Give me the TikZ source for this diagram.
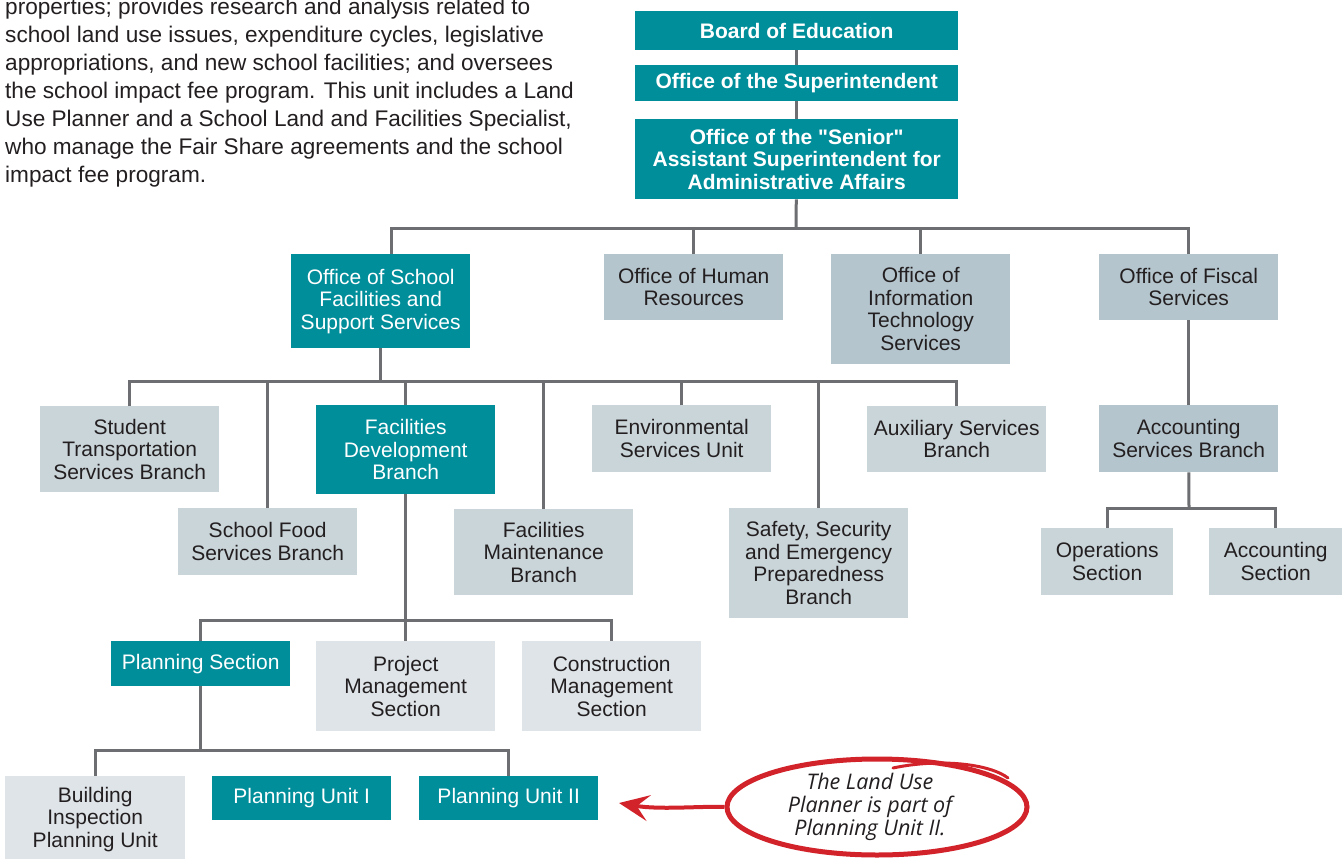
\documentclass[tikz,border=0pt]{standalone}
\usepackage{fontspec}
\setmainfont{Liberation Sans}
\newfontfamily\notefont{Open Sans}
\usetikzlibrary{arrows.meta,shapes.geometric}
\definecolor{orgteal}{RGB}{0,142,155}
\definecolor{officegray}{RGB}{181,197,205}
\definecolor{branchgray}{RGB}{202,213,218}
\definecolor{sectiongray}{RGB}{223,228,232}
\definecolor{linegray}{RGB}{109,110,113}
\definecolor{notered}{RGB}{210,35,42}
\definecolor{textgray}{RGB}{35,31,32}
\tikzset{
  orgbox/.style={anchor=north west, inner sep=0pt, align=center, minimum width=179pt,
    text=textgray, font=\fontsize{21}{22.5}\selectfont},
  headbox/.style={orgbox, fill=orgteal, text=white, minimum width=323pt,
    font=\fontsize{21}{22.5}\selectfont\bfseries},
  tealbox/.style={orgbox, fill=orgteal, text=white},
  officebox/.style={orgbox, fill=officegray},
  branchbox/.style={orgbox, fill=branchgray},
  sectionbox/.style={orgbox, fill=sectiongray},
  link/.style={draw=linegray, line width=3pt},
}

\begin{document}
\begin{tikzpicture}[x=1pt, y=-1pt]
    \fill[white] (0,0) rectangle (1342,859);
    \useasboundingbox (0,0) rectangle (1342,859);
    % text beside the chart
    \node[anchor=north west, inner sep=0pt, align=left, text=textgray,
      font=\fontsize{22.6}{28}\selectfont] (intro) at (5,-2)
      {properties; provides research and analysis related to\\
       school land use issues, expenditure cycles, legislative\\
       appropriations, and new school facilities; and oversees\\
       the school impact fee program. This unit includes a Land\\
       Use Planner and a School Land and Facilities Specialist,\\
       who manage the Fair Share agreements and the school\\
       impact fee program.};
    % top of the chart
    \node[headbox, minimum height=39pt] (board) at (635,11) {Board of Education};
    \node[headbox, minimum height=36pt] (supt) at (635,65) {Office of the Superintendent};
    \node[headbox, minimum height=80pt] (senior) at (635,119)
      {Office of the \textquotedbl Senior\textquotedbl\\Assistant Superintendent for\\Administrative Affairs};
    % offices
    \node[tealbox, minimum height=94pt] (sfss) at (291,254) {Office of School\\Facilities and\\Support Services};
    \node[officebox, minimum height=66pt] (hr) at (604,254) {Office of Human\\Resources};
    \node[officebox, minimum height=110pt] (its) at (831,254) {Office of\\Information\\Technology\\Services};
    \node[officebox, minimum height=66pt] (fiscal) at (1099,254) {Office of Fiscal\\Services};
    \node[officebox, minimum height=67pt] (acct) at (1099,405) {Accounting\\Services Branch};
    \node[branchbox, minimum width=132pt, minimum height=67pt] (ops) at (1041,528) {Operations\\Section};
    \node[branchbox, minimum width=133pt, minimum height=67pt] (acsec) at (1209,528) {Accounting\\Section};
    % branches
    \node[branchbox, minimum height=86pt] (stsb) at (40,406) {Student\\Transportation\\Services Branch};
    \node[branchbox, minimum height=67pt] (food) at (178,508) {School Food\\Services Branch};
    \node[tealbox, minimum height=89pt] (fdb) at (316,405) {Facilities\\Development\\Branch};
    \node[branchbox, minimum height=86pt] (maint) at (454,509) {Facilities\\Maintenance\\Branch};
    \node[branchbox, minimum height=67pt] (env) at (592,405) {Environmental\\Services Unit};
    \node[branchbox, minimum height=110pt] (safety) at (729,508) {Safety, Security\\and Emergency\\Preparedness\\Branch};
    \node[branchbox, minimum height=66pt] (aux) at (867,406) {Auxiliary Services\\Branch};
    % sections and units
    \node[tealbox, minimum height=45pt] (plan) at (111,641) {Planning Section};
    \node[sectionbox, minimum height=90pt] (pm) at (316,641) {Project\\Management\\Section};
    \node[sectionbox, minimum height=90pt] (cm) at (522,641) {Construction\\Management\\Section};
    \node[sectionbox, minimum width=180pt, minimum height=86pt] (bipu) at (5,776) {Building\\Inspection\\Planning Unit};
    \node[tealbox, minimum height=44pt] (pu1) at (212,776) {Planning Unit I};
    \node[tealbox, minimum height=44pt] (pu2) at (419,776) {Planning Unit II};
    % connectors
    \coordinate (bus1) at (796,228);
    \coordinate (bus2) at (380,381);
    \coordinate (bus3) at (405,620);
    \coordinate (bus4) at (200,750);
    \coordinate (bus5) at (1189,508);
    \draw[link] (board) -- (supt);
    \draw[link] (supt) -- (senior);
    \draw[link] (senior) -- (bus1);
    \draw[link] ([xshift=11pt]sfss.north) |- (bus1) -| (fiscal);
    \foreach \n in {hr,its}
    \draw[link] (\n) -- (\n |- bus1);
    \draw[link] (sfss) -- (sfss |- bus2);
    \draw[link] (stsb) |- (bus2) -| (aux);
    \foreach \n in {food,fdb,maint,env,safety}
    \draw[link] (\n) -- (\n |- bus2);
    \draw[link] (fdb) -- (pm);
    \draw[link] (plan) |- (bus3) -| (cm);
    \draw[link] (plan) -- (plan |- bus4);
    \draw[link] (bipu) |- (bus4) -| (pu2);
    \draw[link] (fiscal) -- (acct);
    \draw[link] (acct) -- (bus5);
    \draw[link] (ops) |- (bus5) -| (acsec);
    % the red note
    \node[ellipse, draw=notered, line width=5pt, minimum width=300pt, minimum height=96pt,
      inner sep=0pt] (note) at (877,807) {};
    \node[align=center, inner sep=0pt, text=textgray,
      font=\notefont\itshape\fontsize{21.5}{23}\selectfont]
      (notetext) at (870,807) {The Land Use\\Planner is part of\\Planning Unit II.};
    \draw[notered, line width=3pt, line cap=round] (893,768) .. controls (940,758) and (990,764) .. (1008,778);
    \coordinate (tip) at (619,803);
    \draw[notered, line width=4pt, -{Stealth[length=30pt, width=26pt, inset=12pt]}]
      (note.west) .. controls (700,806) and (660,810) .. (tip);
\end{tikzpicture}
\end{document}
